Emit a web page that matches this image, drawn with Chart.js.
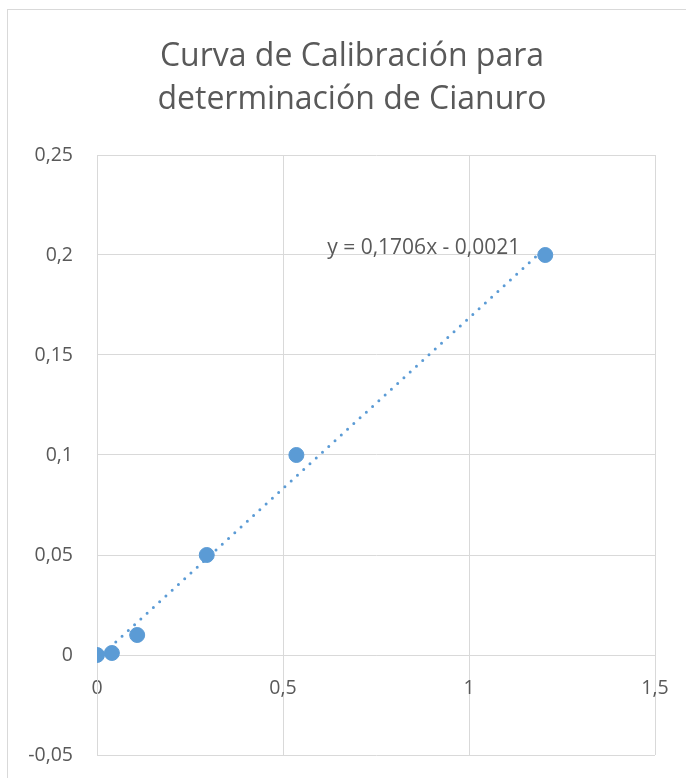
<!DOCTYPE html>
<html>
<head>
<meta charset="utf-8">
<script src="https://cdn.jsdelivr.net/npm/chart.js@4.4.1/dist/chart.umd.min.js"></script>
<style>
    body { margin: 0; background: #ffffff; overflow: hidden; }
    #marco {
        position: absolute; left: 7px; top: 9px; width: 720px; height: 820px;
        border: 1px solid #d9d9d9; box-sizing: border-box;
    }
    #contenedor { position: absolute; left: 0; top: 0; width: 686px; height: 778px; }
</style>
</head>
<body>
<div id="marco"></div>
<div id="contenedor"><canvas id="myChart"></canvas></div>
<script>
// datos
const concentraciones = [0, 0.04, 0.108, 0.295, 0.536, 1.205];
const absorbancias = [0, 0.001, 0.01, 0.05, 0.1, 0.2];

// extremos de la línea de tendencia (lineal)
const tendenciaX = [0, 1.205];
const tendenciaY = [-0.0021, 0.2035];
const ecuacion = 'y = 0,1706x - 0,0021';

const titulo = ['Curva de Calibración para', 'determinación de Cianuro'];
const ticksX = [0, 0.5, 1, 1.5];
const ticksY = [-0.05, 0, 0.05, 0.1, 0.15, 0.2, 0.25];

const colorSerie = '#5b9bd5';
const colorTexto = '#595959';
const colorGrilla = '#d9d9d9';
const fuente = "'Open Sans'";

function formatoComa(valor) {
    return String(parseFloat(valor.toFixed(4))).replace('.', ',');
}

let puntos = [];
for (let i = 0; i < concentraciones.length; i++) {
    puntos.push({ x: concentraciones[i], y: absorbancias[i] });
}
let tendencia = [];
for (let i = 0; i < tendenciaX.length; i++) {
    tendencia.push({ x: tendenciaX[i], y: tendenciaY[i] });
}

// el título va centrado en el marco completo del gráfico (que sigue más allá del borde derecho)
const tituloCentrado = {
    id: 'tituloCentrado',
    afterDraw(chart) {
        const ctx = chart.ctx;
        ctx.save();
        ctx.font = '32px ' + fuente;
        ctx.fillStyle = colorTexto;
        ctx.textAlign = 'center';
        ctx.textBaseline = 'middle';
        ctx.fillText(titulo[0], 352, 57);
        ctx.fillText(titulo[1], 352, 100);
        ctx.restore();
    }
};

// etiqueta de la ecuación junto al final de la tendencia
const etiquetaEcuacion = {
    id: 'etiquetaEcuacion',
    afterDatasetsDraw(chart) {
        const ctx = chart.ctx;
        const px = chart.scales.x.getPixelForValue(tendenciaX[1]);
        const py = chart.scales.y.getPixelForValue(tendenciaY[1]);
        ctx.save();
        ctx.font = '21px ' + fuente;
        ctx.fillStyle = colorTexto;
        ctx.textAlign = 'right';
        ctx.textBaseline = 'middle';
        ctx.fillText(ecuacion, px - 25, py);
        ctx.restore();
    }
};

const config = {
    type: 'scatter',
    data: {
        datasets: [{
            label: 'tendencia',
            type: 'line',
            data: tendencia,
            borderColor: colorSerie,
            borderWidth: 3,
            borderDash: [0, 8.5],
            borderCapStyle: 'round',
            pointRadius: 0,
            fill: false,
            order: 2
        }, {
            label: 'Absorbancia',
            data: puntos,
            backgroundColor: colorSerie,
            borderColor: colorSerie,
            pointRadius: 7.5,
            pointHoverRadius: 7.5,
            order: 1
        }]
    },
    options: {
        responsive: true,
        maintainAspectRatio: false,
        animation: false,
        layout: { padding: { left: 0, right: 31, top: 155, bottom: 23 } },
        plugins: {
            legend: { display: false },
            tooltip: { enabled: false },
            title: { display: false }
        },
        scales: {
            x: {
                type: 'linear',
                position: { y: 0 },
                min: 0,
                max: 1.5,
                afterBuildTicks(scale) { scale.ticks = ticksX.map(v => ({ value: v })); },
                afterFit(scale) { scale.height = 0; },
                ticks: {
                    color: colorTexto,
                    font: { family: fuente, size: 19.5 },
                    padding: 0,
                    callback: (v) => formatoComa(v)
                },
                grid: { color: colorGrilla, lineWidth: 1, drawTicks: true, tickLength: 22, tickColor: 'transparent' },
                border: { color: colorGrilla }
            },
            y: {
                min: -0.05,
                max: 0.25,
                afterBuildTicks(scale) { scale.ticks = ticksY.map(v => ({ value: v })); },
                afterFit(scale) { scale.width = 97; },
                ticks: {
                    color: colorTexto,
                    font: { family: fuente, size: 19.5 },
                    padding: 0,
                    callback: (v) => formatoComa(v)
                },
                grid: { color: colorGrilla, lineWidth: 1, drawTicks: true, tickLength: 24, tickColor: 'transparent' },
                border: { color: colorGrilla }
            }
        }
    },
    plugins: [etiquetaEcuacion, tituloCentrado]
};

let myChart = new Chart(document.getElementById('myChart'), config);
</script>
</body>
</html>
